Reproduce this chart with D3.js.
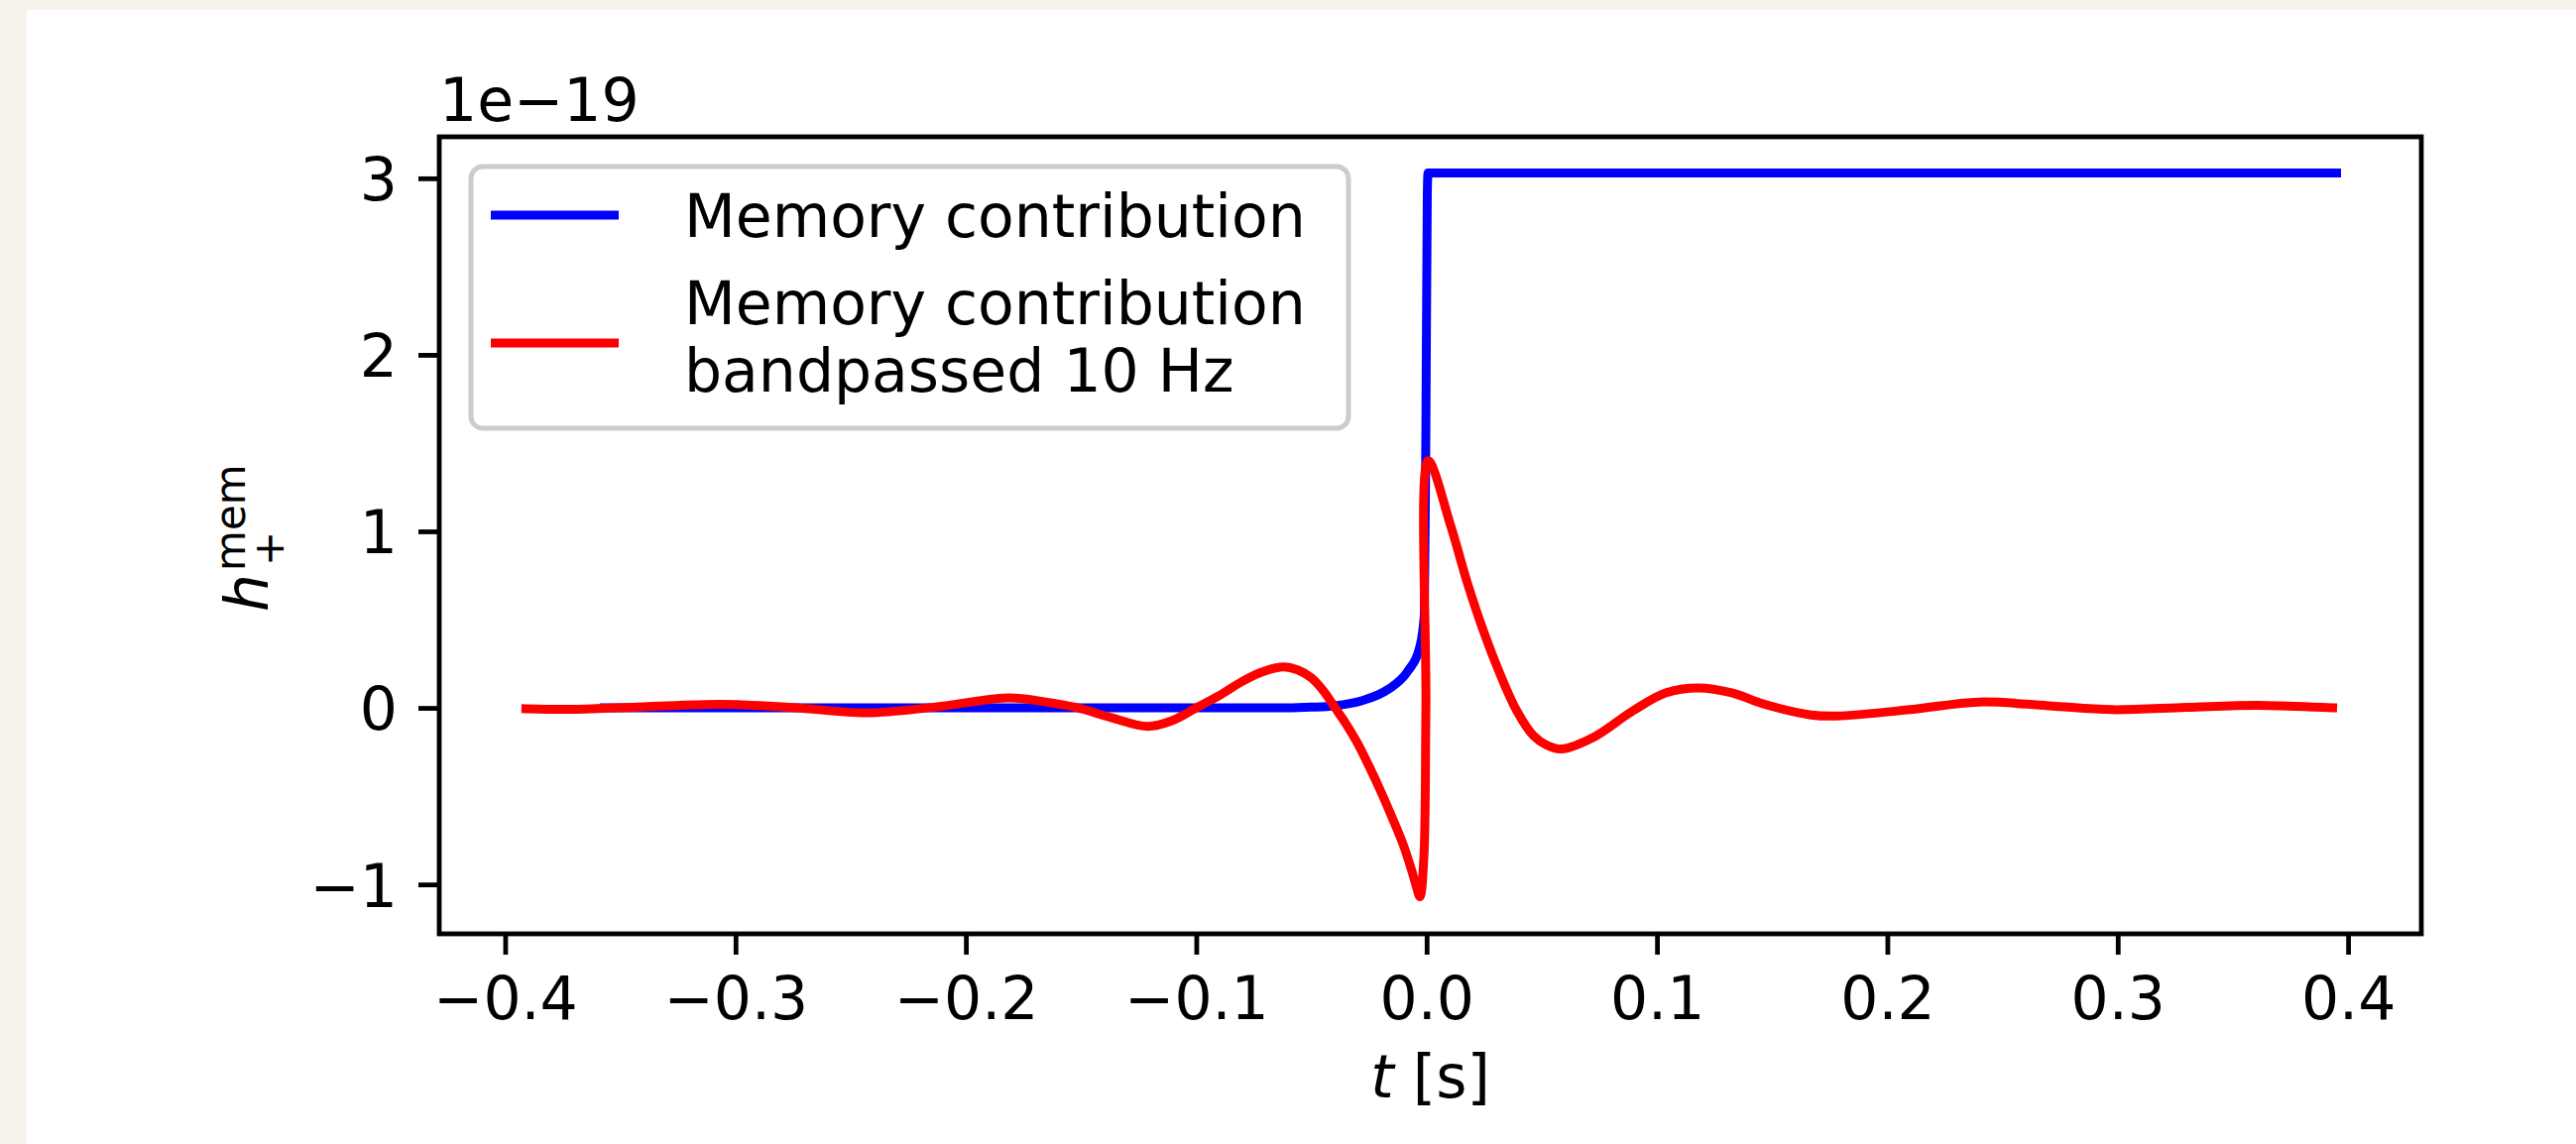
<!DOCTYPE html>
<html>
<head>
<meta charset="utf-8">
<script src="https://cdn.jsdelivr.net/npm/d3@7"></script>
<style>
  html, body { margin: 0; padding: 0; background: #f6f3eb; }
  svg { display: block; }
  text { font-family: "DejaVu Sans", sans-serif; fill: #000; }
</style>
</head>
<body>
<svg id="chart" width="2598" height="1154"></svg>
<script>
// Time samples [s] and memory strain (units of 1e-19) of the unfiltered memory
const tMemory = [-0.357, -0.20, -0.06, -0.05, -0.04, -0.0283, -0.0168, -0.0082, -0.0031,
                 -0.001, -0.0003, 0.0003, 0.0006, 0.2, 0.395];
const hMemory = [0.0, 0.0, 0.0, 0.004, 0.012, 0.04, 0.104, 0.207, 0.338,
                 0.525, 1.6, 2.9, 3.03, 3.03, 3.03];

// Same signal after the 10 Hz bandpass
const tBandpassed = [-0.391, -0.37, -0.34, -0.306, -0.275, -0.243, -0.214, -0.181, -0.166,
                     -0.152, -0.137, -0.121, -0.110, -0.100, -0.090, -0.080, -0.070, -0.062,
                     -0.056, -0.050, -0.045, -0.0397, -0.035, -0.030, -0.025, -0.020, -0.015,
                     -0.010, -0.0065, -0.0045, -0.0029, -0.0012, -0.0003, 0.0007, 0.0105,
                     0.0176, 0.0248, 0.032, 0.0392, 0.0464, 0.052, 0.0585, 0.0722, 0.0894,
                     0.1037, 0.1181, 0.1325, 0.1468, 0.1669, 0.178, 0.21, 0.2396, 0.27,
                     0.2973, 0.33, 0.3607, 0.3933];
const hBandpassed = [-0.005, -0.008, 0.006, 0.02, 0.002, -0.028, 0.004, 0.057, 0.035,
                     0.002, -0.055, -0.105, -0.07, 0.0, 0.07, 0.15, 0.21, 0.232,
                     0.215, 0.17, 0.10, 0.0, -0.09, -0.20, -0.33, -0.47, -0.62,
                     -0.78, -0.92, -1.01, -1.07, -0.85, 0.0, 1.40, 1.03,
                     0.712, 0.431, 0.188, -0.018, -0.158, -0.21, -0.233, -0.168, -0.018,
                     0.085, 0.113, 0.085, 0.02, -0.04, -0.046, -0.01, 0.033, 0.012,
                     -0.01, 0.003, 0.014, 0.001];

const xTicks = [-0.4, -0.3, -0.2, -0.1, 0.0, 0.1, 0.2, 0.3, 0.4];
const yTicks = [-1, 0, 1, 2, 3];
const seriesLabels = [["Memory contribution"], ["Memory contribution", "bandpassed 10 Hz"]];
const seriesColors = ["#0000ff", "#ff0000"];
const offsetLabel = "1e\u221219";

const svg = d3.select("#chart");
const FS = 60;           // base font size
const LW = 9;            // data line width
const SW = 4.8;          // spine / tick width

// white figure area
svg.append("rect").attr("x", 27).attr("y", 10).attr("width", 2598 - 27).attr("height", 1154 - 10)
  .attr("fill", "#ffffff");

const plot = { left: 443, right: 2442, top: 138, bottom: 942 };

const x = d3.scaleLinear().domain([-0.4286, 0.4318]).range([plot.left, plot.right]);
const y = d3.scaleLinear().domain([-1.28, 3.235]).range([plot.bottom, plot.top]);

const fmtMinus = s => s.replace("-", "\u2212");

// axes
const xAxis = d3.axisBottom(x).tickValues(xTicks).tickSize(21).tickPadding(21)
  .tickFormat(d => fmtMinus(d3.format(".1f")(d)));
const yAxis = d3.axisLeft(y).tickValues(yTicks).tickSize(21).tickPadding(21)
  .tickFormat(d => fmtMinus(d3.format("d")(d)));

const gx = svg.append("g").attr("transform", `translate(0,${plot.bottom})`).call(xAxis);
const gy = svg.append("g").attr("transform", `translate(${plot.left},0)`).call(yAxis);
[gx, gy].forEach(g => {
  g.select(".domain").remove();
  g.selectAll(".tick line").attr("stroke", "#000").attr("stroke-width", SW);
  g.selectAll(".tick text").attr("font-size", FS).attr("font-family", "DejaVu Sans").attr("fill", "#000");
});
gy.selectAll(".tick text").attr("dy", "0.365em");
gx.selectAll(".tick text").attr("dy", "0.73em");

// data lines
const line = (ts, hs, curve) => d3.line()
  .x(i => x(ts[i])).y(i => y(hs[i]))
  .curve(curve)(d3.range(ts.length));

svg.append("path").attr("d", line(tMemory, hMemory, d3.curveMonotoneX))
  .attr("fill", "none").attr("stroke", seriesColors[0]).attr("stroke-width", LW)
  .attr("stroke-linejoin", "round").attr("stroke-linecap", "square");
svg.append("path").attr("d", line(tBandpassed, hBandpassed, d3.curveCatmullRom.alpha(0.5)))
  .attr("fill", "none").attr("stroke", seriesColors[1]).attr("stroke-width", LW)
  .attr("stroke-linejoin", "round").attr("stroke-linecap", "square");

// frame
svg.append("rect").attr("x", plot.left).attr("y", plot.top)
  .attr("width", plot.right - plot.left).attr("height", plot.bottom - plot.top)
  .attr("fill", "none").attr("stroke", "#000").attr("stroke-width", SW)
  .attr("stroke-linejoin", "miter");

// offset text
svg.append("text").attr("x", plot.left).attr("y", 122).attr("font-size", FS).text(offsetLabel);

// x label
const xl = svg.append("text").attr("x", (plot.left + plot.right) / 2).attr("y", 1107)
  .attr("text-anchor", "middle").attr("font-size", FS);
xl.append("tspan").attr("font-style", "italic").text("t");
xl.append("tspan").text(" [s]");

// y label: h_+^mem
const yl = svg.append("g").attr("transform", `translate(270,${(plot.top + plot.bottom) / 2}) rotate(-90)`);
yl.append("text").attr("x", -77).attr("y", 0).attr("font-size", FS).attr("font-style", "italic").text("h");
yl.append("text").attr("x", -36).attr("y", -23).attr("font-size", FS * 0.7).text("mem");
yl.append("text").attr("x", -31).attr("y", 16).attr("font-size", FS * 0.7).text("+");

// legend
const lg = svg.append("g");
lg.append("rect").attr("x", 475).attr("y", 168).attr("width", 885).attr("height", 264)
  .attr("rx", 12).attr("ry", 12)
  .attr("fill", "#ffffff").attr("fill-opacity", 0.8)
  .attr("stroke", "#cccccc").attr("stroke-width", 5);
const handleY = [217, 346];
const textBaselines = [[239], [327, 395]];
seriesLabels.forEach((lines, i) => {
  lg.append("line").attr("x1", 499.5).attr("x2", 619.5)
    .attr("y1", handleY[i]).attr("y2", handleY[i])
    .attr("stroke", seriesColors[i]).attr("stroke-width", LW).attr("stroke-linecap", "square");
  lines.forEach((s, j) => {
    lg.append("text").attr("x", 690).attr("y", textBaselines[i][j]).attr("font-size", FS).text(s);
  });
});
</script>
</body>
</html>
